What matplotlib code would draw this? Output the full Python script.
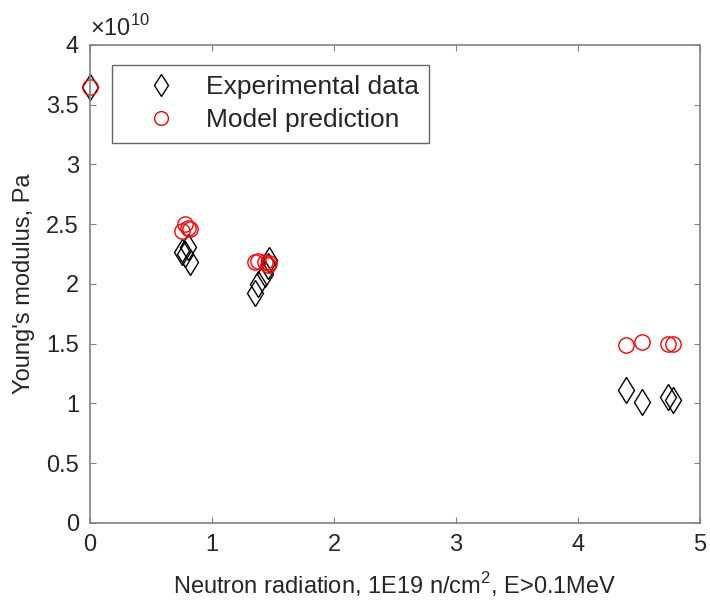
import numpy as np
import matplotlib
matplotlib.use('Agg')
import matplotlib.pyplot as plt
from matplotlib.ticker import FuncFormatter

plt.rcParams['font.family'] = ['Liberation Sans', 'DejaVu Sans']
plt.rcParams['mathtext.fontset'] = 'custom'
plt.rcParams['mathtext.rm'] = 'Liberation Sans'

# --- dados ---
fluence = [0.0,
           0.75, 0.78, 0.80, 0.82,
           1.35, 1.38, 1.43, 1.46, 1.47,
           4.39, 4.52, 4.74, 4.78]
e_exp = [3.65,
         2.27, 2.25, 2.31, 2.18,
         1.92, 2.00, 2.08, 2.15, 2.20,
         1.11, 1.01, 1.05, 1.03]
e_model = [3.65,
           2.44, 2.50, 2.47, 2.46,
           2.18, 2.19, 2.18, 2.16, 2.17,
           1.49, 1.51, 1.50, 1.50]

x = np.array(fluence)
y_exp = np.array(e_exp) * 1e10
y_mod = np.array(e_model) * 1e10

TXT = '#262626'

fig = plt.figure(figsize=(7.1, 6.13), dpi=100)
ax = fig.add_axes([0.127, 0.147, 0.859, 0.780])

ax.plot(x, y_exp, linestyle='none', marker='d', markersize=13,
        markerfacecolor='none', markeredgecolor='black', markeredgewidth=1.0,
        label='Experimental data', clip_on=False)
ax.plot(x, y_mod, linestyle='none', marker='o', markersize=11,
        markerfacecolor='none', markeredgecolor='red', markeredgewidth=1.0,
        label='Model prediction', clip_on=False)

ax.set_xlim(0, 5)
ax.set_ylim(0, 4e10)
ax.set_xticks([0, 1, 2, 3, 4, 5])
ax.set_yticks(np.arange(0, 4.01e10, 0.5e10))
ax.yaxis.set_major_formatter(FuncFormatter(lambda v, p: f'{v / 1e10:g}'))
ax.text(0.0, 1.008, r'$\times10^{10}$', transform=ax.transAxes,
        fontsize=17, color=TXT, ha='left', va='bottom')

ax.tick_params(direction='in', top=True, right=True, length=4, width=0.8,
               labelcolor=TXT, labelsize=17, pad=8, color='#808080')
for s in ax.spines.values():
    s.set_color('#808080')
    s.set_linewidth(1.2)

ax.set_xlabel('Neutron radiation, 1E19 n/cm$^2$, E>0.1MeV', fontsize=17, color=TXT, labelpad=10)
ax.set_ylabel("Young's modulus, Pa", fontsize=17, color=TXT, labelpad=8)

leg = ax.legend(loc='upper left', bbox_to_anchor=(0.036, 0.958), fontsize=19,
                frameon=True, fancybox=False, edgecolor='#404040',
                borderaxespad=0, borderpad=0.4, handletextpad=0.25,
                labelspacing=0.33, handlelength=2.9, markerscale=0.9)
leg.get_frame().set_linewidth(1.0)
for t in leg.get_texts():
    t.set_color(TXT)

fig.savefig('out.png', dpi=100)
